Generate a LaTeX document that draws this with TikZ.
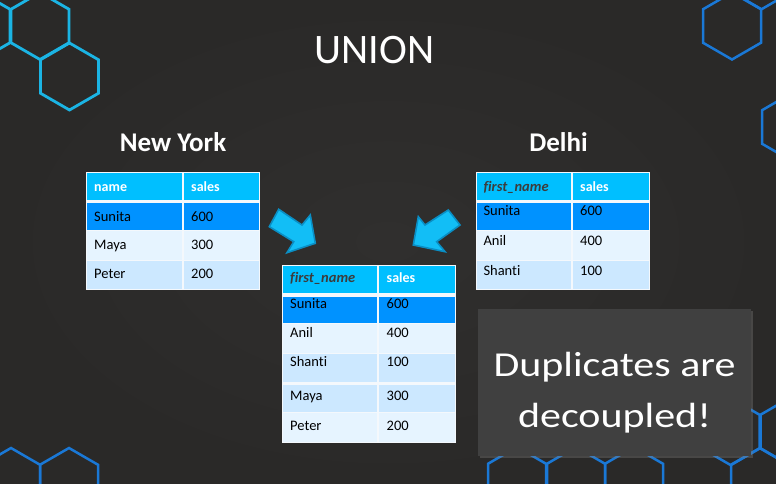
\documentclass[tikz,border=0pt]{standalone}
\usepackage{fontspec}
\setmainfont{Carlito}[Ligatures=NoCommon]
\usetikzlibrary{shadows}
\definecolor{bg}{HTML}{2A2928}
\definecolor{bgc}{HTML}{302F2E}
\definecolor{hexcyan}{HTML}{1BB4E4}
\definecolor{hexblue}{HTML}{1A78D6}
\definecolor{hdr}{HTML}{00BFFF}
\definecolor{sel}{HTML}{0092FF}
\definecolor{lite}{HTML}{E6F4FF}
\definecolor{midb}{HTML}{CCE8FF}
\definecolor{sepc}{HTML}{F4F8FC}
\definecolor{boxgray}{HTML}{404040}
\definecolor{arrfill}{HTML}{12BEF6}
\definecolor{arrline}{HTML}{0A8EC4}
\definecolor{hdrtext}{HTML}{3C3C3C}
\newcommand\hexat[3]{\draw[#3,shift={(#1,#2)}] (0,-33.5) -- (29,-16.75) -- (29,16.75) -- (0,33.5) -- (-29,16.75) -- (-29,-16.75) -- cycle;}
\newcommand\cellat[5]{\fill[#5] (#1,#2) rectangle (#3,#4);}
\begin{document}
\begin{tikzpicture}[x=1pt,y=-1pt,
  hexc/.style={draw=hexcyan,line width=2.8pt,line join=miter},
  hexb/.style={draw=hexblue,line width=2.5pt,line join=miter},
  ctext/.style={inner sep=0pt,anchor=base west,font=\fontsize{14.5}{16}\selectfont,text=black},
  htext/.style={inner sep=0pt,anchor=base west,font=\fontsize{14}{16}\selectfont\bfseries,text=white},
  hitext/.style={inner sep=0pt,anchor=base west,font=\fontsize{14.5}{16}\selectfont\bfseries\itshape,text=hdrtext},
  city/.style={inner sep=0pt,anchor=base,font=\fontsize{27}{30}\selectfont\bfseries,text=white},
  arrowblk/.style={fill=arrfill,draw=arrline,line width=1.6pt,line join=miter},
  notetext/.style={inner sep=0pt,anchor=base,text=white,font=\fontsize{35}{40}\selectfont}
]
\useasboundingbox (0,0) rectangle (776,483);
\clip (0,0) rectangle (776,483);
\shade[inner color=bgc,outer color=bg] (0,0) rectangle (776,483);

% hexagons
\hexat{-19}{26}{hexc}
\hexat{40}{26}{hexc}
\hexat{69.5}{76.5}{hexc}
\hexat{732}{26}{hexb}
\hexat{761.5}{-24.25}{hexb}
\hexat{791}{127}{hexb}
\hexat{11}{481.5}{hexb}
\hexat{69}{481.5}{hexb}
\hexat{517}{480.5}{hexb}
\hexat{576}{480.5}{hexb}
\hexat{634}{480.5}{hexb}
\hexat{730.5}{431.5}{hexb}
\hexat{789.5}{431.5}{hexb}
\hexat{760}{481.75}{hexb}

% titles
\node[inner sep=0pt,anchor=base,text=white,font=\fontsize{42}{46}\selectfont] (title) at (374.5,63) {UNION};
\node[city] (ny) at (173,151) {New York};
\node[city] (delhi) at (558.5,151) {Delhi};

% New York table
\fill[sepc] (86,172) rectangle (260,289.5);
\cellat{86.7}{173}{182.3}{200}{hdr}
\cellat{183.7}{173}{259.3}{200}{hdr}
\cellat{86.7}{203}{182.3}{230}{sel}
\cellat{183.7}{203}{259.3}{230}{sel}
\cellat{86.7}{231}{182.3}{259.5}{lite}
\cellat{183.7}{231}{259.3}{259.5}{lite}
\cellat{86.7}{261}{182.3}{288.5}{midb}
\cellat{183.7}{261}{259.3}{288.5}{midb}
\node[htext] (nyh1) at (94,191) {name};
\node[htext] (nyh2) at (191,191) {sales};
\node[ctext] (ny11) at (94,221) {Sunita};
\node[ctext] (ny12) at (191,221) {600};
\node[ctext] (ny21) at (94,249.5) {Maya};
\node[ctext] (ny22) at (191,249.5) {300};
\node[ctext] (ny31) at (94,278) {Peter};
\node[ctext] (ny32) at (191,278) {200};

% Delhi table
\fill[sepc] (476,172) rectangle (650,290);
\cellat{476.7}{173}{571.3}{200}{hdr}
\cellat{572.7}{173}{649.3}{200}{hdr}
\cellat{476.7}{203}{571.3}{230}{sel}
\cellat{572.7}{203}{649.3}{230}{sel}
\cellat{476.7}{231}{571.3}{259.5}{lite}
\cellat{572.7}{231}{649.3}{259.5}{lite}
\cellat{476.7}{261}{571.3}{289}{midb}
\cellat{572.7}{261}{649.3}{289}{midb}
\node[hitext] (dlh1) at (483.3,191) {first\_name};
\node[htext] (dlh2) at (580,191) {sales};
\node[ctext] (dl11) at (483.3,215.7) {Sunita};
\node[ctext] (dl12) at (580,215.7) {600};
\node[ctext] (dl21) at (483.3,245) {Anil};
\node[ctext] (dl22) at (580,245) {400};
\node[ctext] (dl31) at (483.3,275) {Shanti};
\node[ctext] (dl32) at (580,275) {100};

% Union table
\fill[sepc] (282,265) rectangle (456,442.5);
\cellat{282.7}{265.7}{377.3}{293}{hdr}
\cellat{378.7}{265.7}{455.3}{293}{hdr}
\cellat{282.7}{296.7}{377.3}{323}{sel}
\cellat{378.7}{296.7}{455.3}{323}{sel}
\cellat{282.7}{324}{377.3}{352.7}{lite}
\cellat{378.7}{324}{455.3}{352.7}{lite}
\cellat{282.7}{354}{377.3}{381.7}{midb}
\cellat{378.7}{354}{455.3}{381.7}{midb}
\cellat{282.7}{385}{377.3}{411.7}{midb}
\cellat{378.7}{385}{455.3}{411.7}{midb}
\cellat{282.7}{413}{377.3}{441.7}{lite}
\cellat{378.7}{413}{455.3}{441.7}{lite}
\node[hitext] (unh1) at (290,282.7) {first\_name};
\node[htext] (unh2) at (386.5,282.7) {sales};
\node[ctext] (un11) at (290,308.7) {Sunita};
\node[ctext] (un12) at (386.5,308.7) {600};
\node[ctext] (un21) at (290,337.7) {Anil};
\node[ctext] (un22) at (386.5,337.7) {400};
\node[ctext] (un31) at (290,366.7) {Shanti};
\node[ctext] (un32) at (386.5,366.7) {100};
\node[ctext] (un41) at (290,400.7) {Maya};
\node[ctext] (un42) at (386.5,400.7) {300};
\node[ctext] (un51) at (290,430) {Peter};
\node[ctext] (un52) at (386.5,430) {200};

% block arrows
\path[arrowblk] (278.7,209.3) -- (302,225) -- (310.3,215) -- (315.3,243.3) -- (287,252.7) -- (293.7,241.7) -- (269.3,226.7) -- cycle;
\path[arrowblk] (448.3,210) -- (425,225) -- (418.3,216.7) -- (413.3,245) -- (445,251.7) -- (436.7,241.7) -- (460,225) -- cycle;

% note box
\node[fill=boxgray,minimum width=273pt,minimum height=147pt,inner sep=0pt,
  drop shadow={opacity=0.35,shadow xshift=1.5pt,shadow yshift=-1.5pt}] (note) at (614.5,382.5) {};
\node[notetext] (note1) at (614.5,376) {\scalebox{1.2}[1]{Duplicates are}};
\node[notetext] (note2) at (614.5,427.7) {\scalebox{1.2}[1]{decoupled!}};
\end{tikzpicture}
\end{document}
